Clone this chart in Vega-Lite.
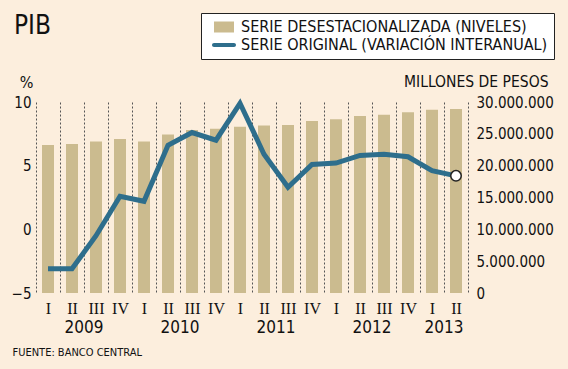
{
  "$schema": "https://vega.github.io/schema/vega-lite/v6.json",
  "width": 432,
  "height": 191,
  "autosize": "none",
  "padding": {"left": 36, "top": 102, "right": 100, "bottom": 76},
  "background": "#FCEEDD",
  "config": {
    "view": {"stroke": null},
    "font": "DejaVu Sans Condensed",
    "axis": {"labelColor": "#111", "titleColor": "#111", "titleFontWeight": "normal"}
  },
  "title": {
    "text": "PIB",
    "anchor": "start",
    "frame": "group",
    "fontSize": 26,
    "fontWeight": "normal",
    "font": "DejaVu Sans Condensed",
    "color": "#111",
    "baseline": "alphabetic",
    "dx": -22,
    "offset": 0,
    "dy": 47
  },
  "data": {
    "values": [
      {"t": "2009-I", "q": "I", "year": "2009", "nivel": 23250000, "var": -3.1},
      {"t": "2009-II", "q": "II", "year": "2009", "nivel": 23400000, "var": -3.1},
      {"t": "2009-III", "q": "III", "year": "2009", "nivel": 23800000, "var": -0.5},
      {"t": "2009-IV", "q": "IV", "year": "2009", "nivel": 24200000, "var": 2.6},
      {"t": "2010-I", "q": "I", "year": "2010", "nivel": 23800000, "var": 2.2},
      {"t": "2010-II", "q": "II", "year": "2010", "nivel": 24900000, "var": 6.6},
      {"t": "2010-III", "q": "III", "year": "2010", "nivel": 25600000, "var": 7.6},
      {"t": "2010-IV", "q": "IV", "year": "2010", "nivel": 25800000, "var": 7.0},
      {"t": "2011-I", "q": "I", "year": "2011", "nivel": 26100000, "var": 9.9},
      {"t": "2011-II", "q": "II", "year": "2011", "nivel": 26300000, "var": 5.9},
      {"t": "2011-III", "q": "III", "year": "2011", "nivel": 26400000, "var": 3.3},
      {"t": "2011-IV", "q": "IV", "year": "2011", "nivel": 27000000, "var": 5.1},
      {"t": "2012-I", "q": "I", "year": "2012", "nivel": 27300000, "var": 5.2},
      {"t": "2012-II", "q": "II", "year": "2012", "nivel": 27800000, "var": 5.8},
      {"t": "2012-III", "q": "III", "year": "2012", "nivel": 28000000, "var": 5.9},
      {"t": "2012-IV", "q": "IV", "year": "2012", "nivel": 28400000, "var": 5.7},
      {"t": "2013-I", "q": "I", "year": "2013", "nivel": 28800000, "var": 4.6},
      {"t": "2013-II", "q": "II", "year": "2013", "nivel": 28900000, "var": 4.2}
    ]
  },
  "encoding": {
    "x": {
      "field": "t",
      "type": "ordinal",
      "sort": null,
      "scale": {"paddingInner": 0, "paddingOuter": 0},
      "axis": {
        "title": "FUENTE: BANCO CENTRAL",
        "titleX": -24,
        "titleY": 62,
        "titleAlign": "left",
        "titleAnchor": "start",
        "titleBaseline": "alphabetic",
        "titleFontSize": 11,
        "titleFont": "DejaVu Sans Condensed",
        "labelExpr": "split(datum.label, '-')[1]",
        "labelFont": "Liberation Serif",
        "labelFontSize": 16,
        "labelAngle": 0,
        "labelPadding": 7,
        "domain": false,
        "ticks": false,
        "grid": true,
        "gridDash": [2, 2],
        "gridColor": "#555555",
        "gridWidth": 1,
        "gridOpacity": 1,
        "tickBand": "extent"
      }
    }
  },
  "layer": [
    {
      "mark": {"type": "bar", "size": 12},
      "encoding": {
        "y": {
          "field": "nivel",
          "type": "quantitative",
          "scale": {"domain": [0, 30000000], "nice": false},
          "axis": {
            "orient": "right",
            "title": "MILLONES DE PESOS",
            "titleAngle": 0,
            "titleX": 80,
            "titleY": -16,
            "titleAlign": "right",
            "titleBaseline": "alphabetic",
            "titleFontSize": 15.5,
            "values": [0, 5000000, 10000000, 15000000, 20000000, 25000000, 30000000],
            "labelExpr": "replace(format(datum.value, ','), regexp(',', 'g'), '.')",
            "labelPadding": 8,
            "labelFontSize": 15,
            "domain": false,
            "ticks": false,
            "grid": false
          }
        },
        "color": {
          "datum": "SERIE DESESTACIONALIZADA (NIVELES)",
          "type": "nominal",
          "scale": {
            "domain": ["SERIE DESESTACIONALIZADA (NIVELES)", "SERIE ORIGINAL (VARIACIÓN INTERANUAL)"],
            "range": ["#CBBB8F", "#2E6E8C"]
          },
          "legend": {
            "orient": "none",
            "legendX": 165,
            "legendY": -89,
            "title": null,
            "fillColor": "#FFFFFF",
            "strokeColor": "#222222",
            "padding": 6,
            "labelFontSize": 16,
            "labelFont": "DejaVu Sans Condensed",
            "labelColor": "#111111",
            "labelLimit": 500,
            "symbolSize": 100,
            "symbolOffset": 9,
            "rowPadding": 2,
            "labelOffset": 9,
            "encode": {
              "symbols": {
                "update": {
                  "shape": {"signal": "indexof(datum.value, 'ORIGINAL') >= 0 ? 'M-2,-0.4H2A0.4,0.4 0 0 1 2,0.4H-2A0.4,0.4 0 0 1 -2,-0.4Z' : 'M-2,-1.1H2V1.1H-2Z'"},
                  "fill": {"signal": "indexof(datum.value, 'ORIGINAL') >= 0 ? '#2E6E8C' : '#CBBB8F'"},
                  "strokeWidth": {"value": 0},
                  "opacity": {"value": 1},
                  "fillOpacity": {"value": 1}
                }
              }
            }
          }
        }
      }
    },
    {
      "layer": [
        {
          "mark": {"type": "line", "strokeWidth": 5},
          "encoding": {
            "y": {
              "field": "var",
              "type": "quantitative",
              "scale": {"domain": [-5, 10], "nice": false},
              "axis": {
                "orient": "left",
                "title": "%",
                "titleAngle": 0,
                "titleX": -10,
                "titleY": -15,
                "titleAlign": "center",
                "titleBaseline": "alphabetic",
                "titleFontSize": 16,
                "values": [-5, 0, 5, 10],
                "labelFontSize": 15,
                "labelPadding": 5,
                "domain": false,
                "ticks": false,
                "grid": false
              }
            },
            "color": {"datum": "SERIE ORIGINAL (VARIACIÓN INTERANUAL)", "type": "nominal"}
          }
        },
        {
          "transform": [{"filter": "datum.t === '2013-II'"}],
          "mark": {"type": "point", "filled": true, "fill": "#FFFFFF", "stroke": "#222222", "strokeWidth": 1.5, "size": 110, "opacity": 1},
          "encoding": {
            "y": {"field": "var", "type": "quantitative"}
          }
        },
        {
          "transform": [{"filter": "(datum.q === 'II' && datum.year !== '2013') || datum.t === '2013-I'"}],
          "mark": {"type": "text", "dx": 12, "dy": 35, "fontSize": 17, "font": "DejaVu Sans Condensed", "color": "#111111", "align": "center", "baseline": "middle"},
          "encoding": {
            "y": {"datum": -5, "type": "quantitative"},
            "text": {"field": "year"}
          }
        }
      ]
    }
  ],
  "resolve": {"scale": {"y": "independent"}}
}
